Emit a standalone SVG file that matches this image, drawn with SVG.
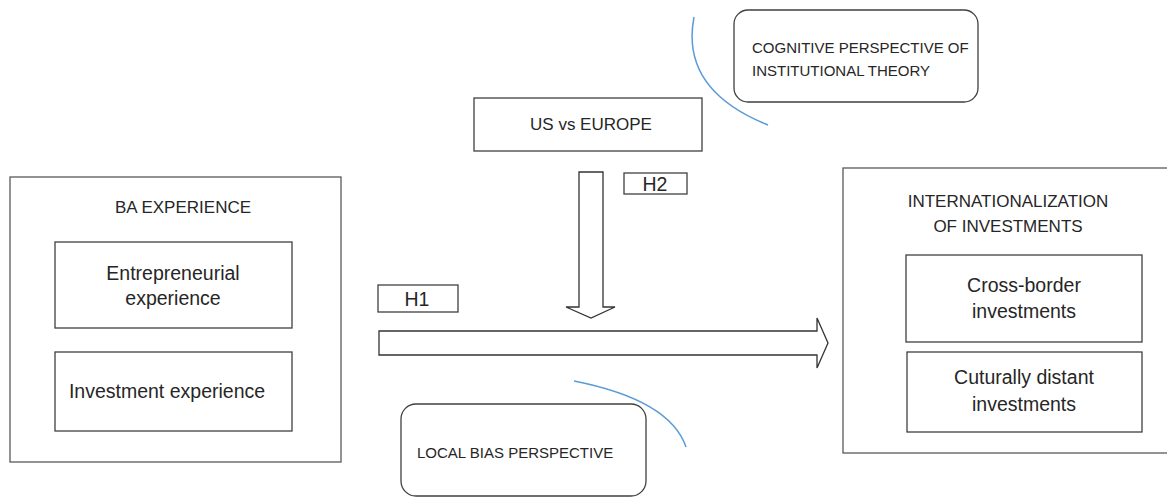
<svg xmlns="http://www.w3.org/2000/svg" width="1167" height="498" viewBox="0 0 1167 498">
<style>
.box{fill:#fff;stroke:#404040;stroke-width:1.3}
.outer{fill:#fff;stroke:#595959;stroke-width:1.3}
.arr{fill:#fff;stroke:#333;stroke-width:1.3;stroke-linejoin:miter}
.arc{fill:none;stroke:#5b9bd5;stroke-width:1.5}
text{font-family:"Liberation Sans",Arial,sans-serif;fill:#262626}
.t17{font-size:17px}
.t19{font-size:19.5px}
.t15{font-size:15px}
.mid{text-anchor:middle}
</style>
<rect width="1167" height="498" fill="#fff"/>
<g id="ba-experience">
<rect class="outer" x="10" y="177" width="331" height="285"/>
<text class="t17 mid" x="183" y="213">BA EXPERIENCE</text>
</g>
<g id="entrepreneurial">
<rect class="box" x="55" y="242" width="237" height="86"/>
<text class="t19 mid" x="173" y="280">Entrepreneurial</text>
<text class="t19 mid" x="173" y="305">experience</text>
</g>
<g id="investment">
<rect class="box" x="55" y="352" width="237" height="79"/>
<text class="t19 mid" x="167" y="398">Investment experience</text>
</g>
<g id="internationalization">
<rect class="outer" x="843" y="168" width="330" height="285"/>
<text class="t17 mid" x="1008" y="207">INTERNATIONALIZATION</text>
<text class="t17 mid" x="1008" y="232">OF INVESTMENTS</text>
</g>
<g id="cross-border">
<rect class="box" x="906" y="255" width="236" height="87"/>
<text class="t19 mid" x="1024" y="292">Cross-border</text>
<text class="t19 mid" x="1024" y="318">investments</text>
</g>
<g id="culturally-distant">
<rect class="box" x="907" y="352" width="235" height="80"/>
<text class="t19 mid" x="1024" y="384">Cuturally distant</text>
<text class="t19 mid" x="1024" y="411">investments</text>
</g>
<g id="us-europe">
<rect class="box" x="474" y="98" width="228" height="53"/>
<text class="t17 mid" x="591" y="130">US vs EUROPE</text>
</g>
<g id="cognitive">
<rect class="box" x="734" y="10" width="244" height="92" rx="14"/>
<text class="t15" x="752" y="53">COGNITIVE PERSPECTIVE OF</text>
<text class="t15" x="752" y="76">INSTITUTIONAL THEORY</text>
</g>
<g id="local-bias">
<rect class="box" x="401" y="404" width="245" height="92" rx="15"/>
<text class="t15" x="417" y="458">LOCAL BIAS PERSPECTIVE</text>
</g>
<g id="h1">
<rect class="box" x="378" y="285" width="80" height="27"/>
<text class="t19 mid" x="417" y="306">H1</text>
</g>
<g id="h2">
<rect class="box" x="624" y="173" width="63" height="21"/>
<text class="t19 mid" x="655" y="191">H2</text>
</g>
<g id="connectors">
<path class="arr" d="M379 331 H817 V318 L828 343 L817 368 V355 H379 Z"/>
<path class="arr" d="M579 172 H603 V307 H615 L591 318 L566 307 H579 Z"/>
<path class="arc" d="M694 17 Q680 90 768 125"/>
<path class="arc" d="M574 381 Q670 400 686 447"/>
</g>
</svg>
